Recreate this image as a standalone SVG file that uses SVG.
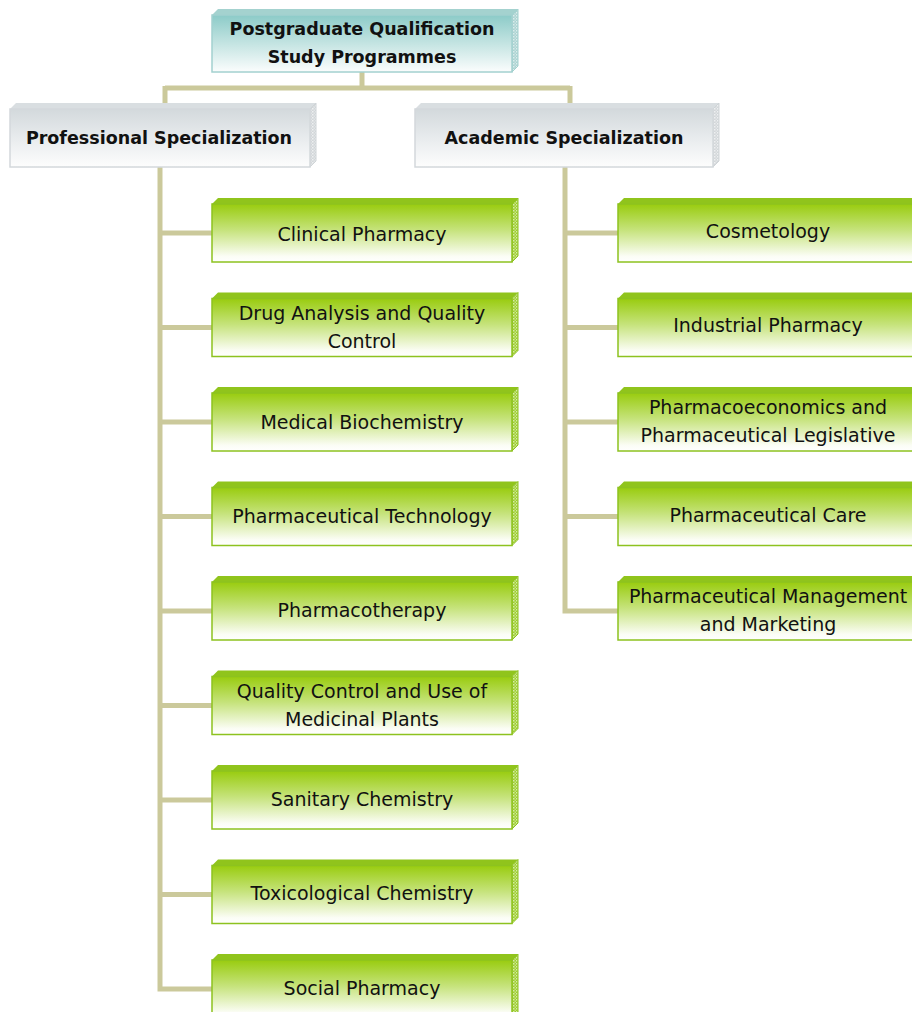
<svg xmlns="http://www.w3.org/2000/svg" width="912" height="1012" viewBox="0 0 912 1012">
  <defs>
    <linearGradient id="gGreen" x1="0" y1="0" x2="0" y2="1">
      <stop offset="0" stop-color="#99cc0f"/>
      <stop offset="0.45" stop-color="#c6e37c"/>
      <stop offset="0.9" stop-color="#fbfdf5"/>
      <stop offset="1" stop-color="#ffffff"/>
    </linearGradient>
    <linearGradient id="gTeal" x1="0" y1="0" x2="0" y2="1">
      <stop offset="0" stop-color="#8ccbc8"/>
      <stop offset="0.5" stop-color="#c4e4e2"/>
      <stop offset="1" stop-color="#fbfdfd"/>
    </linearGradient>
    <linearGradient id="gGrey" x1="0" y1="0" x2="0" y2="1">
      <stop offset="0" stop-color="#d3d9dc"/>
      <stop offset="0.55" stop-color="#eaedef"/>
      <stop offset="1" stop-color="#fdfdfd"/>
    </linearGradient>
    <pattern id="pGreen" width="3" height="3" patternUnits="userSpaceOnUse">
      <rect width="3" height="3" fill="#9ccd2a"/>
      <rect width="1.5" height="1.5" fill="#d6ebaa"/>
      <rect x="1.5" y="1.5" width="1.5" height="1.5" fill="#c2e180"/>
    </pattern>
    <pattern id="pTeal" width="3" height="3" patternUnits="userSpaceOnUse">
      <rect width="3" height="3" fill="#a9d3d1"/>
      <rect width="1.5" height="1.5" fill="#dcecec"/>
      <rect x="1.5" y="1.5" width="1.5" height="1.5" fill="#c6e0df"/>
    </pattern>
    <pattern id="pGrey" width="3" height="3" patternUnits="userSpaceOnUse">
      <rect width="3" height="3" fill="#d2d6d9"/>
      <rect width="1.5" height="1.5" fill="#eef0f1"/>
      <rect x="1.5" y="1.5" width="1.5" height="1.5" fill="#e1e4e6"/>
    </pattern>
  </defs>
  <style>
    .wire { fill: none; stroke: #cbc99b; stroke-width: 5; stroke-linejoin: miter; stroke-linecap: butt; }
    .g-front { fill: url(#gGreen); stroke: #8dc21f; stroke-width: 1.5; }
    .g-top { fill: #90c41c; }
    .g-side { fill: url(#pGreen); stroke: #8dc21f; stroke-width: 1; }
    .t-front { fill: url(#gTeal); stroke: #a3d1cf; stroke-width: 1.5; }
    .t-top { fill: #a4d2cf; }
    .t-side { fill: url(#pTeal); stroke: #a3d1cf; stroke-width: 1; }
    .s-front { fill: url(#gGrey); stroke: #d3d8db; stroke-width: 1.5; }
    .s-top { fill: #d9dee1; }
    .s-side { fill: url(#pGrey); stroke: #cfd4d7; stroke-width: 1; }
    .lbl { font-family: "DejaVu Sans", Verdana, sans-serif; font-size: 19px; fill: #111111; text-anchor: middle; }
    .hdr { font-family: "DejaVu Sans", Verdana, sans-serif; font-size: 17.5px; font-weight: bold; fill: #111111; text-anchor: middle; }
  </style>

  <rect width="912" height="1012" fill="#ffffff"/>

  <!-- connectors -->
  <g id="connectors">
    <path class="wire" d="M362,72 V88 M165,88 H570 M165,86 V109 M570,86 V109"/>
    <path class="wire" d="M160,167 V989 H212 M160,233 H212 M160,327.5 H212 M160,422 H212 M160,516.5 H212 M160,611 H212 M160,705.5 H212 M160,800 H212 M160,894.5 H212"/>
    <path class="wire" d="M565,167 V611 H618 M565,233 H618 M565,327.5 H618 M565,422 H618 M565,516.5 H618"/>
  </g>

  <!-- root -->
  <g id="root">
    <polygon class="t-top" points="212,15 218,9 518,9 512,15"/>
    <polygon class="t-side" points="512,15 518,9 518,66 512,72"/>
    <rect class="t-front" x="212" y="15" width="300" height="57"/>
    <text class="hdr" x="362" y="35">Postgraduate Qualification</text>
    <text class="hdr" x="362" y="63">Study Programmes</text>
  </g>

  <!-- branch headers -->
  <g id="professional">
    <polygon class="s-top" points="10,109 16,103 316,103 310,109"/>
    <polygon class="s-side" points="310,109 316,103 316,161 310,167"/>
    <rect class="s-front" x="10" y="109" width="300" height="58"/>
    <text class="hdr" x="159" y="144">Professional Specialization</text>
  </g>
  <g id="academic">
    <polygon class="s-top" points="415,109 421,103 719,103 713,109"/>
    <polygon class="s-side" points="713,109 719,103 719,161 713,167"/>
    <rect class="s-front" x="415" y="109" width="298" height="58"/>
    <text class="hdr" x="564" y="144">Academic Specialization</text>
  </g>

  <!-- professional programmes -->
  <g id="clinical-pharmacy">
    <polygon class="g-top" points="212,204 218,198 518,198 512,204"/>
    <polygon class="g-side" points="512,204 518,198 518,256 512,262"/>
    <rect class="g-front" x="212" y="204" width="300" height="58"/>
    <text class="lbl" x="362" y="240.5">Clinical Pharmacy</text>
  </g>
  <g id="drug-analysis">
    <polygon class="g-top" points="212,298.5 218,292.5 518,292.5 512,298.5"/>
    <polygon class="g-side" points="512,298.5 518,292.5 518,350.5 512,356.5"/>
    <rect class="g-front" x="212" y="298.5" width="300" height="58"/>
    <text class="lbl" x="362" y="320">Drug Analysis and Quality</text>
    <text class="lbl" x="362" y="348">Control</text>
  </g>
  <g id="medical-biochemistry">
    <polygon class="g-top" points="212,393 218,387 518,387 512,393"/>
    <polygon class="g-side" points="512,393 518,387 518,445 512,451"/>
    <rect class="g-front" x="212" y="393" width="300" height="58"/>
    <text class="lbl" x="362" y="429">Medical Biochemistry</text>
  </g>
  <g id="pharmaceutical-technology">
    <polygon class="g-top" points="212,487.5 218,481.5 518,481.5 512,487.5"/>
    <polygon class="g-side" points="512,487.5 518,481.5 518,539.5 512,545.5"/>
    <rect class="g-front" x="212" y="487.5" width="300" height="58"/>
    <text class="lbl" x="362" y="523">Pharmaceutical Technology</text>
  </g>
  <g id="pharmacotherapy">
    <polygon class="g-top" points="212,582 218,576 518,576 512,582"/>
    <polygon class="g-side" points="512,582 518,576 518,634 512,640"/>
    <rect class="g-front" x="212" y="582" width="300" height="58"/>
    <text class="lbl" x="362" y="617">Pharmacotherapy</text>
  </g>
  <g id="medicinal-plants">
    <polygon class="g-top" points="212,676.5 218,670.5 518,670.5 512,676.5"/>
    <polygon class="g-side" points="512,676.5 518,670.5 518,728.5 512,734.5"/>
    <rect class="g-front" x="212" y="676.5" width="300" height="58"/>
    <text class="lbl" x="362" y="698">Quality Control and Use of</text>
    <text class="lbl" x="362" y="726">Medicinal Plants</text>
  </g>
  <g id="sanitary-chemistry">
    <polygon class="g-top" points="212,771 218,765 518,765 512,771"/>
    <polygon class="g-side" points="512,771 518,765 518,823 512,829"/>
    <rect class="g-front" x="212" y="771" width="300" height="58"/>
    <text class="lbl" x="362" y="805.5">Sanitary Chemistry</text>
  </g>
  <g id="toxicological-chemistry">
    <polygon class="g-top" points="212,865.5 218,859.5 518,859.5 512,865.5"/>
    <polygon class="g-side" points="512,865.5 518,859.5 518,917.5 512,923.5"/>
    <rect class="g-front" x="212" y="865.5" width="300" height="58"/>
    <text class="lbl" x="362" y="900">Toxicological Chemistry</text>
  </g>
  <g id="social-pharmacy">
    <polygon class="g-top" points="212,960 218,954 518,954 512,960"/>
    <polygon class="g-side" points="512,960 518,954 518,1012 512,1018"/>
    <rect class="g-front" x="212" y="960" width="300" height="58"/>
    <text class="lbl" x="362" y="994.5">Social Pharmacy</text>
  </g>

  <!-- academic programmes -->
  <g id="cosmetology">
    <polygon class="g-top" points="618,204 624,198 924,198 918,204"/>
    <rect class="g-front" x="618" y="204" width="300" height="58"/>
    <text class="lbl" x="768" y="238">Cosmetology</text>
  </g>
  <g id="industrial-pharmacy">
    <polygon class="g-top" points="618,298.5 624,292.5 924,292.5 918,298.5"/>
    <rect class="g-front" x="618" y="298.5" width="300" height="58"/>
    <text class="lbl" x="768" y="332">Industrial Pharmacy</text>
  </g>
  <g id="pharmacoeconomics">
    <polygon class="g-top" points="618,393 624,387 924,387 918,393"/>
    <rect class="g-front" x="618" y="393" width="300" height="58"/>
    <text class="lbl" x="768" y="413.5">Pharmacoeconomics and</text>
    <text class="lbl" x="768" y="441.5">Pharmaceutical Legislative</text>
  </g>
  <g id="pharmaceutical-care">
    <polygon class="g-top" points="618,487.5 624,481.5 924,481.5 918,487.5"/>
    <rect class="g-front" x="618" y="487.5" width="300" height="58"/>
    <text class="lbl" x="768" y="521.5">Pharmaceutical Care</text>
  </g>
  <g id="management-marketing">
    <polygon class="g-top" points="618,582 624,576 924,576 918,582"/>
    <rect class="g-front" x="618" y="582" width="300" height="58"/>
    <text class="lbl" x="768" y="602.5">Pharmaceutical Management</text>
    <text class="lbl" x="768" y="630.5">and Marketing</text>
  </g>
</svg>
